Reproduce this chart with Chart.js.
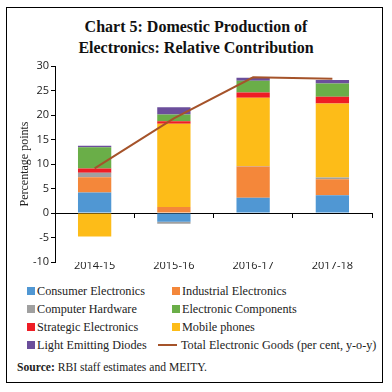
<!DOCTYPE html>
<html>
<head>
<meta charset="utf-8">
<script src="https://cdn.jsdelivr.net/npm/chart.js@4"></script>
<style>
  html, body { margin: 0; padding: 0; background: #fff; }
  body { width: 392px; height: 392px; position: relative; overflow: hidden; }
  #frame { position: absolute; left: 6px; top: 7px; width: 377px; height: 376px; border: 1px solid #000; box-sizing: border-box; }
  #title { position: absolute; left: 0; top: 16px; width: 392px; text-align: center; font-family: "Liberation Serif", serif; font-weight: bold; font-size: 16px; line-height: 21px; color: #111; }
  #wrap { position: absolute; left: 0; top: 55px; width: 392px; height: 220px; }
  #legend { position: absolute; left: 27px; top: 282px; width: 360px; display: grid; grid-template-columns: 145px 215px; grid-auto-rows: 18px; font-family: "Liberation Serif", serif; font-size: 12.2px; color: #222; }
  .item { display: flex; align-items: center; white-space: nowrap; }
  .box { width: 8px; height: 8px; margin-right: 2px; flex: none; }
  .ln { width: 19px; height: 2px; margin-left: -14px; margin-right: 4px; flex: none; }
  #source { position: absolute; left: 17px; top: 361px; font-family: "Liberation Serif", serif; font-size: 11.6px; color: #222; }
</style>
</head>
<body>
<div id="frame"></div>
<div id="title">Chart 5: Domestic Production of<br>Electronics: Relative Contribution</div>
<div id="wrap"><canvas id="c" width="392" height="220"></canvas></div>
<div id="legend"></div>
<div id="source"><b>Source:</b> RBI staff estimates and MEITY.</div>
<script>
const categories = ['2014-15', '2015-16', '2016-17', '2017-18'];
const consumerElectronics   = [4.2, -1.8, 3.1, 3.6];
const industrialElectronics = [3.1, 1.2, 6.4, 3.3];
const computerHardware      = [0.9, -0.4, 0.1, 0.35];
const mobilePhones          = [-4.8, 17.0, 13.9, 15.1];
const strategicElectronics  = [0.9, 0.5, 1.1, 1.4];
const electronicComponents  = [4.3, 1.4, 2.4, 2.7];
const lightEmittingDiodes   = [0.3, 1.5, 0.6, 0.7];
const totalElectronicGoods  = [9.1, 19.3, 27.7, 27.4];
const yTicks = { min: -10, max: 30, step: 5 };

const barSeries = [
  { label: 'Consumer Electronics', data: consumerElectronics, color: '#5097D3' },
  { label: 'Industrial Electronics', data: industrialElectronics, color: '#F4873A' },
  { label: 'Computer Hardware', data: computerHardware, color: '#A0A0A0' },
  { label: 'Mobile phones', data: mobilePhones, color: '#FDBC18' },
  { label: 'Strategic Electronics', data: strategicElectronics, color: '#EE1D25' },
  { label: 'Electronic Components', data: electronicComponents, color: '#6AAE48' },
  { label: 'Light Emitting Diodes', data: lightEmittingDiodes, color: '#6B4E9B' }
];
const legendOrder = ['Consumer Electronics', 'Industrial Electronics', 'Computer Hardware', 'Electronic Components',
  'Strategic Electronics', 'Mobile phones', 'Light Emitting Diodes', 'Total Electronic Goods (per cent, y-o-y)'];

const datasets = barSeries.map(s => ({
  type: 'bar', label: s.label, data: s.data, backgroundColor: s.color, borderWidth: 0,
  stack: 'parts', barPercentage: 0.42, categoryPercentage: 1, order: 1
}));
datasets.push({
  type: 'line', label: 'Total Electronic Goods (per cent, y-o-y)', data: totalElectronicGoods,
  borderColor: '#A5532A', backgroundColor: '#A5532A', borderWidth: 2, pointRadius: 0,
  tension: 0, stack: 'total', order: 0
});

const sans = '"Open Sans", "Liberation Sans", sans-serif';
const chart = new Chart(document.getElementById('c'), {
  data: { labels: categories, datasets },
  options: {
    responsive: false, animation: false,
    layout: { padding: { top: 11, right: 20, left: 0, bottom: 0 } },
    plugins: { legend: { display: false }, tooltip: { enabled: false } },
    scales: {
      x: {
        type: 'category', position: 'bottom', offset: true, stacked: true,
        grid: { display: false, drawTicks: false },
        border: { display: false },
        ticks: { font: { family: sans, size: 11 }, color: '#222', padding: -3, maxRotation: 0 },
        afterFit: s => { s.height = 13; }
      },
      x0: {
        type: 'category', axis: 'x', position: { y: 0 }, offset: true,
        grid: { offset: true, drawOnChartArea: false, drawTicks: true, tickLength: 4, color: '#000', lineWidth: 1 },
        border: { display: true, color: '#000', width: 1 },
        ticks: { display: false }
      },
      y: {
        stacked: true, min: yTicks.min, max: yTicks.max,
        ticks: { stepSize: yTicks.step, font: { family: sans, size: 11 }, color: '#222', padding: 2 },
        grid: { drawOnChartArea: false, drawTicks: true, tickLength: 4, color: '#000' },
        border: { display: true, color: '#000', width: 1 },
        title: { display: true, text: 'Percentage points', font: { family: '"Liberation Serif", serif', size: 12 }, color: '#222', padding: { top: 18, bottom: 0 } },
        afterFit: s => { s.width = 55; }
      }
    }
  }
});

const legendEl = document.getElementById('legend');
legendOrder.forEach(name => {
  const ds = chart.data.datasets.find(d => d.label === name);
  const item = document.createElement('div');
  item.className = 'item';
  const mark = document.createElement('span');
  mark.className = ds.type === 'line' ? 'ln' : 'box';
  mark.style.background = ds.type === 'line' ? ds.borderColor : ds.backgroundColor;
  item.appendChild(mark);
  item.appendChild(document.createTextNode(name));
  legendEl.appendChild(item);
});
</script>
</body>
</html>
